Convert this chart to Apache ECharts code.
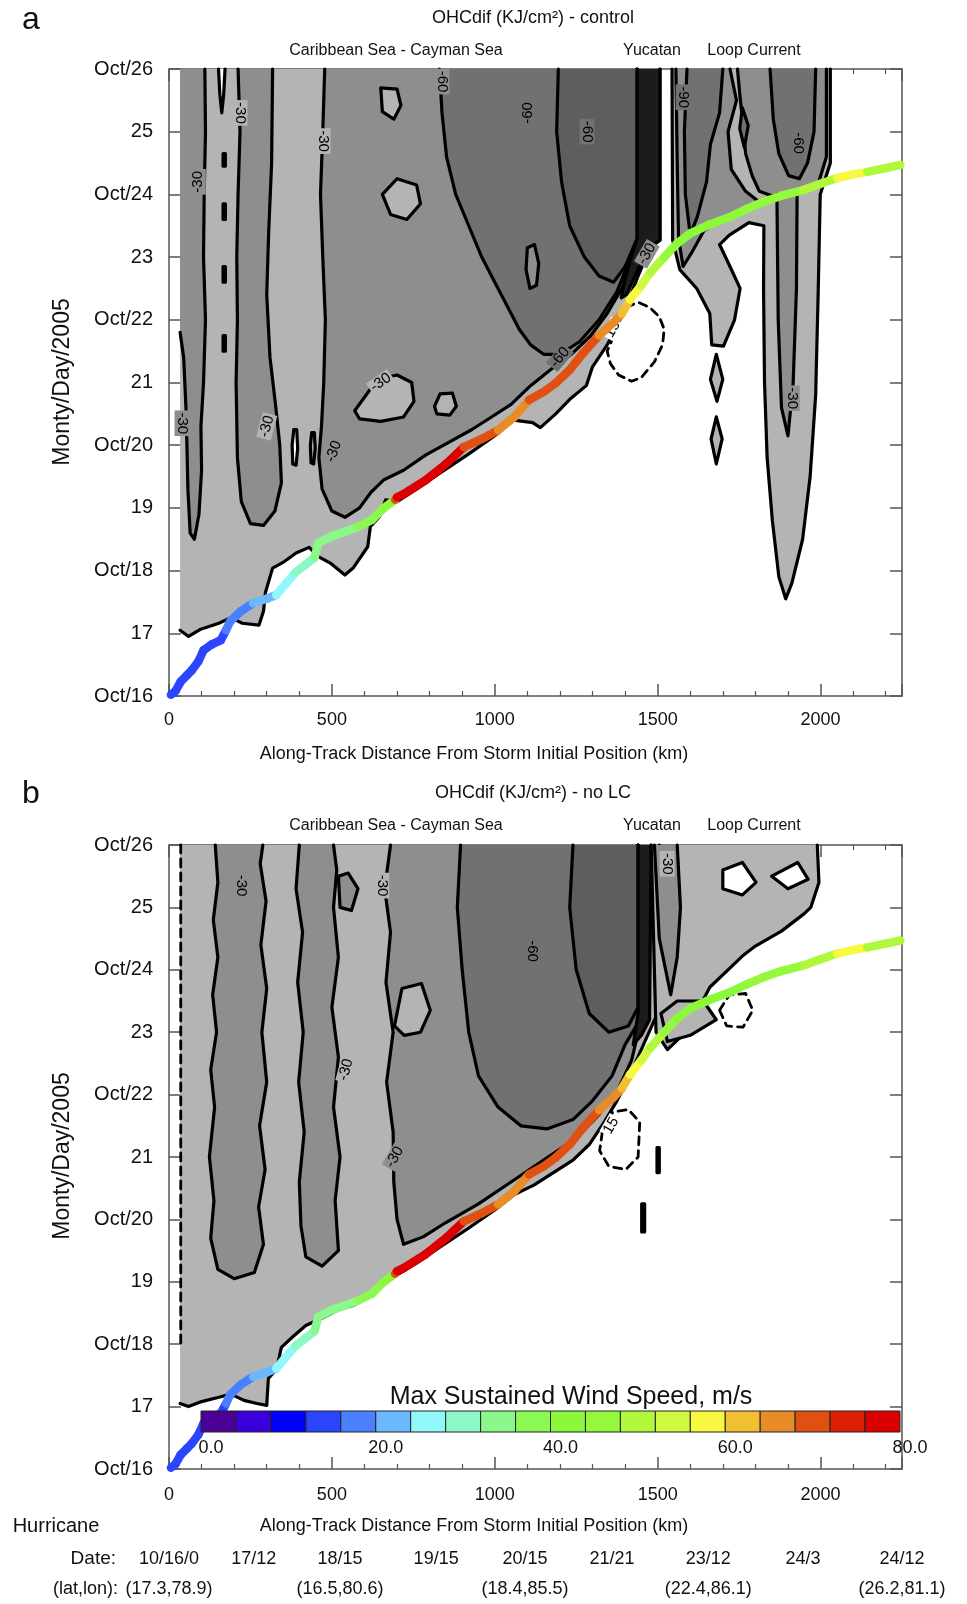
<!DOCTYPE html>
<html><head><meta charset="utf-8">
<script src="https://cdn.jsdelivr.net/npm/echarts@6/dist/echarts.min.js"></script>
<style>html,body{margin:0;padding:0;background:#fff}#c{width:967px;height:1604px}</style>
</head><body><div id="c"></div>
<script>
// ---------------- DATA ----------------
const dayTicks = [16,17,18,19,20,21,22,23,24,25,26];
const dayLabels = ['Oct/16','17','Oct/18','19','Oct/20','21','Oct/22','23','Oct/24','25','Oct/26'];

// Hurricane track (along-track km, day of Oct, max sustained wind m/s)
const trackKm = [6,20,36,55,70,90,106,130,159,175,188,220,258,300,329,360,388,420,447,458,500,540,580,623,660,694,700,720,787,850,905,960,1010,1060,1105,1150,1187,1230,1271,1320,1363,1390,1415,1450,1477,1520,1560,1600,1660,1722,1770,1824,1880,1947,2000,2051,2100,2143,2200,2245];
const trackDay = [16.02,16.08,16.23,16.33,16.41,16.55,16.73,16.82,16.89,17.05,17.19,17.35,17.48,17.55,17.61,17.80,17.97,18.10,18.21,18.44,18.55,18.62,18.70,18.81,19.00,19.13,19.17,19.22,19.44,19.70,19.97,20.10,20.24,20.45,20.72,20.85,20.99,21.20,21.47,21.75,21.95,22.10,22.32,22.55,22.75,23.00,23.22,23.38,23.52,23.64,23.76,23.88,23.98,24.07,24.17,24.26,24.32,24.36,24.42,24.47];
const trackWind = [14,14,14,14,14,14,14,14,14,18,18,18,22,22,26,26,30,30,34,34,34,34,38,38,42,70,78,78,78,78,70,70,66,66,70,70,70,70,70,66,66,62,58,54,50,44,42,42,42,42,46,46,46,50,50,58,58,50,50,50];

// wind-speed colour bar
const windBins = [0,4,8,12,16,20,24,28,32,36,40,44,48,52,56,60,64,68,72,76];
const windColors = ['#4b0096','#3a00dc','#0000ff','#2b45ff','#4a80ff','#6cb8ff','#90f8f8','#8cf8c8','#8cf88c','#8cf854','#8cf83c','#96f83c','#b0f83c','#d0f840','#f8f840','#f0c030','#e88c28','#e05010','#dc2008','#dc0000'];

// OHCdif contour regions, panel a (control): [km, day] outlines, level = enclosed contour value
const aWest = [[34,26],[34,17.05],[60,16.95],[95,17.06],[153,17.16],[190,17.25],[225,17.16],[276,17.13],[290,17.35],[296,17.65],[318,18.04],[350,18.13],[390,18.28],[430,18.37],[460,18.22],[495,18.12],[540,17.93],[565,18.04],[610,18.38],[618,18.7],[646,18.86],[665,19.13],[700,19.1],[760,19.3],[830,19.55],[917,19.85],[1000,20.15],[1058,20.4],[1116,20.36],[1140,20.28],[1187,20.5],[1234,20.75],[1281,20.95],[1300,21.25],[1345,21.6],[1380,21.95],[1410,22.3],[1440,22.7],[1465,23.0],[1490,23.2],[1507,23.27],[1507,26]];
const aLeftCol = [[34,26],[34,21.8],[45,21.4],[52,20.6],[55,20.0],[58,19.3],[65,18.6],[78,18.5],[92,18.9],[100,19.6],[98,20.3],[106,21.0],[112,22.0],[106,23.0],[108,24.0],[112,25.0],[110,26]];
const aBand1 = [[212,26],[218,25],[212,24],[208,23],[210,22],[206,21],[210,19.8],[222,19.1],[250,18.75],[290,18.72],[325,18.95],[345,19.4],[340,20.0],[328,20.6],[310,21.4],[300,22.4],[306,23.4],[315,24.5],[318,26]];
const aCentral = [[478,26],[472,25],[465,24],[472,23],[480,22],[475,21],[468,20.3],[460,19.8],[470,19.3],[500,18.95],[540,18.85],[585,19.0],[620,19.25],[660,19.45],[720,19.6],[790,19.85],[860,20.05],[930,20.25],[990,20.45],[1050,20.65],[1110,20.95],[1170,21.2],[1235,21.45],[1295,21.75],[1345,22.1],[1390,22.5],[1420,22.95],[1437,23.3],[1437,26]];
const aHole1 = [[570,20.55],[605,20.8],[640,21.05],[700,21.12],[745,21.0],[752,20.7],[720,20.45],[650,20.38],[585,20.42]];
const aHole2 = [[815,20.62],[832,20.82],[870,20.83],[882,20.62],[862,20.48],[822,20.5]];
const aHole3 = [[650,25.7],[700,25.68],[712,25.42],[690,25.2],[655,25.32]];
const aHole4 = [[655,24.0],[700,24.25],[760,24.15],[772,23.85],[730,23.6],[680,23.68]];
const aOval1 = [[380,19.7],[378,20.0],[383,20.25],[392,20.25],[395,19.95],[390,19.68]];
const aOval2 = [[436,19.72],[434,20.0],[438,20.2],[446,20.2],[449,19.95],[444,19.7]];
const aDark1 = [[830,26],[838,25.3],[852,24.6],[880,24.0],[920,23.5],[960,23.0],[1000,22.6],[1040,22.2],[1075,21.85],[1110,21.6],[1150,21.45],[1200,21.45],[1260,21.65],[1320,22.0],[1375,22.45],[1410,22.9],[1437,23.3],[1437,26]];
const aDarkOval = [[1100,23.15],[1122,23.2],[1135,22.9],[1128,22.55],[1108,22.5],[1096,22.8]];
const aDark2 = [[1195,26],[1190,25],[1205,24.2],[1230,23.5],[1275,23.0],[1320,22.7],[1365,22.6],[1400,22.85],[1437,23.3],[1437,26]];
const aYucatan = [[1437,26],[1437,23.3],[1416,22.95],[1398,22.6],[1388,22.35],[1405,22.4],[1432,22.72],[1462,23.02],[1490,23.22],[1507,23.27],[1507,26]];
const aLoop = [[1544,26],[2030,26],[2030,24.5],[1999,24.0],[1993,22.5],[1985,20.8],[1968,19.5],[1945,18.5],[1912,17.8],[1893,17.55],[1872,17.9],[1852,18.8],[1836,19.8],[1828,21.0],[1825,22.5],[1826,23.5],[1780,23.55],[1720,23.35],[1690,23.2],[1722,22.85],[1753,22.5],[1736,22.0],[1702,21.58],[1666,21.6],[1660,22.1],[1620,22.5],[1568,22.8],[1546,23.27]];
const aLoopMid1 = [[1556,26],[1722,26],[1742,25.5],[1716,25.0],[1726,24.4],[1770,24.05],[1812,23.88],[1762,23.78],[1702,23.62],[1642,23.42],[1602,23.05],[1578,22.85],[1564,23.3],[1560,24.5]];
const aLoopDark1 = [[1590,26],[1700,26],[1690,25.3],[1662,24.8],[1650,24.2],[1622,23.65],[1600,23.35],[1585,24.0],[1582,25.0]];
const aLoopMid2 = [[1745,26],[2018,26],[2018,24.6],[1990,24.12],[1940,24.02],[1900,23.98],[1850,23.98],[1812,24.05],[1790,24.3],[1770,24.65],[1760,25.2],[1752,25.6]];
const aLoopDark2 = [[1845,26],[1985,26],[1980,25.0],[1960,24.5],[1935,24.25],[1902,24.3],[1872,24.65],[1855,25.2]];
const aLoopDiamond = [[1760,25.38],[1778,25.1],[1766,24.75],[1752,25.05]];
const aTongueIn = [[1866,24.0],[1928,24.0],[1926,22.5],[1916,21.0],[1900,20.15],[1880,20.6],[1870,22.0]];
const aDiamond1 = [[1680,21.45],[1700,21.05],[1682,20.7],[1662,21.05]];
const aDiamond2 = [[1680,20.45],[1698,20.1],[1680,19.7],[1664,20.1]];
const aSliver = [[152,26],[172,26],[168,25.6],[162,25.3],[156,25.6]];
const aDash1 = [[166,24.65],[173,24.65],[173,24.45],[166,24.45]];
const aDash2 = [[166,23.85],[173,23.85],[173,23.6],[166,23.6]];
const aDash3 = [[166,22.85],[173,22.85],[173,22.6],[166,22.6]];
const aDash4 = [[166,21.75],[173,21.75],[173,21.5],[166,21.5]];
const aPositive = [[1404,22.2],[1440,22.28],[1475,22.2],[1505,22.05],[1520,21.85],[1515,21.6],[1490,21.33],[1450,21.08],[1420,21.02],[1380,21.12],[1355,21.3],[1345,21.5]];

const panelA = [
  [0,aWest],[-30,aLeftCol],[-30,aBand1],[-30,aCentral],[0,aHole1],[0,aHole2],[0,aHole3],[0,aHole4],[1,aOval1],[0,aOval2],
  [-60,aDark1],[-30,aDarkOval],[-90,aDark2],[-120,aYucatan],[0,aLoop],[-30,aLoopMid1],[-60,aLoopDark1],[-30,aLoopMid2],[-60,aLoopDark2],
  [-60,aLoopDiamond],[-30,aTongueIn],[0,aDiamond1],[0,aDiamond2],[1,aSliver],[-120,aDash1],[-120,aDash2],[-120,aDash3],[-120,aDash4],[15,aPositive]
];
// contour labels: km, day, text, angle, level of region behind
const aLabels = [
  [90,24.2,'-30',90,-30],[40,20.35,'-30',-90,-30],[218,25.3,'-30',-90,0],[300,20.3,'-30',75,0],[506,19.9,'-30',70,-30],
  [650,21.0,'-30',35,0],[473,24.85,'-30',-90,0],[838,25.8,'-60',-90,-30],[1102,25.3,'-60',90,-60],[1283,25.0,'-60',-90,-60],
  [1200,21.4,'-60',50,-60],[1578,25.55,'-90',-90,-60],[1932,24.82,'-60',-90,-60],[1913,20.75,'-30',-90,-30],[1362,21.85,'15',60,1],[1467,23.05,'-30',60,-30]
];

// panel b (no LC)
const bWest = [[34,26],[34,17.05],[60,17.0],[100,17.08],[153,17.15],[190,17.2],[230,17.1],[270,17.05],[300,17.02],[305,17.45],[330,17.6],[345,17.95],[380,18.12],[420,18.3],[470,18.42],[520,18.55],[565,18.62],[610,18.75],[650,18.95],[690,19.08],[760,19.3],[830,19.55],[917,19.85],[1000,20.15],[1060,20.4],[1120,20.55],[1180,20.75],[1240,20.95],[1290,21.2],[1335,21.55],[1375,21.9],[1405,22.2],[1435,22.55],[1465,22.9],[1495,23.25],[1505,26]];
const bCol1 = [[142,26],[150,25.4],[136,24.8],[150,24.2],[134,23.6],[146,23.0],[128,22.4],[140,21.8],[124,21.0],[138,20.3],[128,19.7],[150,19.2],[200,19.05],[262,19.15],[290,19.6],[275,20.2],[295,20.8],[278,21.5],[300,22.2],[285,23.0],[300,23.7],[282,24.4],[298,25.1],[280,25.7],[288,26]];
const bCol2 = [[400,26],[390,25.3],[410,24.6],[395,23.8],[412,23.0],[398,22.2],[415,21.4],[400,20.6],[405,19.9],[420,19.4],[470,19.25],[520,19.5],[510,20.3],[525,21.0],[505,21.8],[520,22.6],[500,23.4],[520,24.2],[505,25.0],[515,25.6],[505,26]];
const bCentral = [[680,26],[662,25.3],[680,24.6],[666,23.8],[688,23.0],[668,22.2],[688,21.4],[690,20.6],[700,20.0],[720,19.6],[780,19.72],[850,19.95],[950,20.25],[1050,20.6],[1150,20.95],[1250,21.3],[1320,21.68],[1380,22.1],[1420,22.55],[1440,23.0],[1440,26]];
const bHole1 = [[692,23.1],[715,23.7],[775,23.78],[802,23.35],[772,23.0],[722,22.95]];
const bSmall1 = [[520,25.5],[550,25.55],[580,25.3],[560,24.95],[525,25.0]];
const bDark1 = [[895,26],[885,25.0],[900,24.0],[920,23.0],[950,22.3],[1010,21.8],[1080,21.5],[1160,21.45],[1240,21.6],[1300,21.9],[1360,22.3],[1400,22.8],[1440,23.15],[1440,26]];
const bDark2 = [[1240,26],[1230,25],[1250,24],[1290,23.3],[1350,23.0],[1410,23.1],[1440,23.4],[1440,26]];
const bYucatan = [[1440,26],[1440,23.3],[1425,22.8],[1450,22.95],[1475,23.2],[1480,26]];
const bLoop = [[1480,26],[1990,26],[1995,25.4],[1970,25.0],[1950,24.9],[1880,24.62],[1800,24.38],[1760,24.22],[1720,24.02],[1660,23.72],[1620,23.32],[1570,22.92],[1530,22.72],[1495,23.0]];
const bLoopHole1 = [[1700,25.6],[1760,25.72],[1802,25.4],[1760,25.2],[1700,25.3]];
const bLoopHole2 = [[1850,25.5],[1930,25.72],[1962,25.45],[1900,25.3]];
const bLoopMid = [[1490,26],[1560,26],[1570,25],[1560,24.2],[1540,23.6],[1505,24.5]];
const bBelow = [[1510,23.3],[1560,23.5],[1640,23.5],[1680,23.2],[1600,22.95],[1530,22.85]];
const bPositive1 = [[1330,21.4],[1362,21.72],[1410,21.76],[1445,21.56],[1440,21.0],[1402,20.8],[1350,20.85],[1322,21.1]];
const bPositive2 = [[1690,23.35],[1720,23.6],[1770,23.62],[1792,23.35],[1762,23.08],[1712,23.1]];
const bCapsule = [[1451,20.25],[1460,20.25],[1460,19.8],[1451,19.8]];
const bCapsule2 = [[1498,21.15],[1505,21.15],[1505,20.75],[1498,20.75]];
const bLeftEdge = [[36,26],[36,18.0]];

const panelB = [
  [0,bWest],[-30,bCol1],[-30,bCol2],[-30,bCentral],[0,bHole1],[-30,bSmall1],[-60,bDark1],[-90,bDark2],[-120,bYucatan],
  [0,bLoop],[1,bLoopHole1],[1,bLoopHole2],[-30,bLoopMid],[0,bBelow],[15,bPositive1],[15,bPositive2],[-120,bCapsule],[-120,bCapsule2],[15,bLeftEdge]
];
const bLabels = [
  [220,25.35,'-30',-90,-30],[653,25.35,'-30',-90,0],[1115,24.3,'-60',-90,-60],[1529,25.7,'-30',-90,0],
  [543,22.4,'-30',75,0],[693,21.0,'-30',60,-30],[1357,21.5,'15',60,1]
];

// bottom table
const dateText = ['10/16/0','17/12','18/15','19/15','20/15','21/21','23/12','24/3','24/12'];
const dateKm = [0,260,525,820,1093,1360,1655,1946,2250];
const latLonText = ['(17.3,78.9)','','(16.5,80.6)','','(18.4,85.5)','','(22.4,86.1)','','(26.2,81.1)'];

// ---------------- RENDER ----------------
const FONT = "'Liberation Sans', Arial, Helvetica, sans-serif";
const DATA_LEFT = 34, DATA_TOP = 26;
function fillOf(l){ if(l>=15) return 'none'; if(l>0) return '#ffffff'; if(l===0) return '#b4b4b4'; if(l===-30) return '#8e8e8e'; if(l===-60) return '#717171'; if(l===-90) return '#5e5e5e'; return '#1c1c1c'; }
function windColor(w){ return windColors[Math.max(0, Math.min(19, Math.floor(w/4)))]; }
function onEdge(a,b){ return (a[1]>=DATA_TOP && b[1]>=DATA_TOP) || (a[0]<=DATA_LEFT && b[0]<=DATA_LEFT); }
const AX = '#555';

function contourSeries(ai, polys){
  return { type:'custom', xAxisIndex:ai, yAxisIndex:ai, silent:true, z:2, animation:false,
    data: polys.map(p=>[p[1][0][0], p[1][0][1]]),
    renderItem:(params, api)=>{
      const p = polys[params.dataIndex];
      const pts = p[1];
      const px = pts.map(q=>api.coord(q));
      const dashed = p[0]>=15;
      const children = [];
      const closed = pts.length>2;
      if (!dashed && closed) children.push({type:'polygon', shape:{points:px}, style:{fill:fillOf(p[0]), stroke:null, lineWidth:0}});
      const n = pts.length, m = closed ? n : n-1;
      const runs = []; let run = [];
      for (let i=0;i<m;i++){
        const j = (i+1)%n;
        if (onEdge(pts[i], pts[j])) { if (run.length) { runs.push(run); run = []; } continue; }
        if (!run.length) run.push(px[i]);
        run.push(px[j]);
      }
      if (run.length) runs.push(run);
      runs.forEach(r=>children.push({type:'polyline', shape:{points:r},
        style:{fill:null, stroke:'#000', lineWidth: dashed?2.8:3.2, lineDash: dashed?[8,6]:null, lineJoin:'round', lineCap:'round'}}));
      return {type:'group', children:children};
    }};
}
function labelSeries(ai, labels){
  return { type:'custom', xAxisIndex:ai, yAxisIndex:ai, silent:true, z:3, animation:false,
    data: labels.map(l=>[l[0], l[1]]),
    renderItem:(params, api)=>{
      const l = labels[params.dataIndex];
      const c = api.coord([l[0], l[1]]);
      const bg = fillOf(l[4]);
      return {type:'text', x:c[0], y:c[1], rotation:l[3]*Math.PI/180,
        style:{text:l[2], font:'15px '+FONT, fill:'#000', align:'center', verticalAlign:'middle', backgroundColor: bg==='none'?'#fff':bg, padding:[0,2]}};
    }};
}
function trackSeries(ai){
  return { type:'custom', xAxisIndex:ai, yAxisIndex:ai, silent:true, z:5, animation:false,
    data: trackKm.map((k,i)=>[k, trackDay[i], trackWind[i]]),
    renderItem:(params, api)=>{
      const i = params.dataIndex;
      if (i >= trackKm.length-1) return null;
      const p0 = api.coord([trackKm[i], trackDay[i]]);
      const p1 = api.coord([trackKm[i+1], trackDay[i+1]]);
      return {type:'line', shape:{x1:p0[0], y1:p0[1], x2:p1[0], y2:p1[1]},
        style:{stroke: windColor(trackWind[i]), lineWidth:8.5, lineCap:'round'}};
    }};
}

function xAx(grid, pos, labels, margin){
  return {gridIndex:grid, type:'value', position:pos, min:0, max:2250, interval:500,
    axisLine:{show:true, onZero:false, lineStyle:{color:AX, width:1.5}},
    axisTick:{show:true, inside:true, length:12, lineStyle:{color:AX, width:1.5}},
    minorTick:{show:true, splitNumber:5, length:5, lineStyle:{color:AX, width:1.2}},
    splitLine:{show:false}, minorSplitLine:{show:false},
    axisLabel:{show:labels, fontSize:18, fontFamily:FONT, color:'#111', margin:margin, showMaxLabel:false, formatter:(v)=>String(v)}};
}
function yAx(grid, pos, labels){
  return {gridIndex:grid, type:'value', position:pos, min:16, max:26, interval:1,
    axisLine:{show:true, onZero:false, lineStyle:{color:AX, width:1.5}},
    axisTick:{show:true, inside:true, length:12, lineStyle:{color:AX, width:1.5}},
    splitLine:{show:false},
    axisLabel:{show:labels, fontSize:20, fontFamily:FONT, color:'#111', margin:16,
      formatter:(v)=>{ const i = dayTicks.indexOf(v); return i>=0 ? dayLabels[i] : ''; }}};
}

function txt(t, x, y, size, opt){
  opt = opt || {};
  return {type:'text', x:x, y:y, rotation:opt.rot||0, silent:true, z:20,
    style:{text:t, font:(size||18)+'px '+FONT, fill:'#111', align:opt.align||'center', verticalAlign:'middle', textAlign:opt.align||'center', textVerticalAlign:'middle'}};
}

const chart = echarts.init(document.getElementById('c'), null, {renderer:'canvas'});
const option = {
  animation:false,
  backgroundColor:'#fff',
  grid:[
    {left:169, top:69, width:733, height:627},
    {left:169, top:845, width:733, height:624},
    {left:201, top:1411, width:699, height:21}
  ],
  xAxis:[
    xAx(0,'bottom',true,15), xAx(0,'top',false,15),
    xAx(1,'bottom',true,17), xAx(1,'top',false,17),
    {gridIndex:2, type:'value', min:0, max:80, interval:20, axisLine:{show:false}, axisTick:{show:false}, splitLine:{show:false},
     axisLabel:{fontSize:18, fontFamily:FONT, color:'#111', margin:7, padding:[0,0,0,20], formatter:(v)=>v.toFixed(1)}}
  ],
  yAxis:[
    yAx(0,'left',true), yAx(0,'right',false),
    yAx(1,'left',true), yAx(1,'right',false),
    {gridIndex:2, type:'value', min:0, max:1, show:false}
  ],
  series:[
    contourSeries(0, panelA), labelSeries(0, aLabels), trackSeries(0),
    contourSeries(2, panelB), labelSeries(2, bLabels), trackSeries(2),
    { type:'custom', xAxisIndex:4, yAxisIndex:4, silent:true, z:10, animation:false,
      data: windBins.map(b=>[b, 0]),
      renderItem:(params, api)=>{
        const b = windBins[params.dataIndex];
        const p0 = api.coord([b, 1]), p1 = api.coord([b+4, 0]);
        return {type:'rect', shape:{x:p0[0], y:p0[1], width:p1[0]-p0[0], height:p1[1]-p0[1]},
          style:{fill: windColors[params.dataIndex], stroke:'#222', lineWidth:1}};
      }},
    { type:'custom', xAxisIndex:2, yAxisIndex:2, silent:true, z:10, animation:false, clip:false,
      data: dateKm.map(k=>[k, 16]),
      renderItem:(params, api)=>{
        const i = params.dataIndex;
        const c = api.coord([dateKm[i], 16]);
        const ch = [{type:'text', x:c[0], y:c[1]+90, style:{text:dateText[i], font:'18px '+FONT, fill:'#111', align:'center', verticalAlign:'middle'}}];
        if (latLonText[i]) ch.push({type:'text', x:c[0], y:c[1]+120, style:{text:latLonText[i], font:'18px '+FONT, fill:'#111', align:'center', verticalAlign:'middle'}});
        return {type:'group', children:ch};
      }}
  ],
  graphic:[
    txt('a',31,20,32),
    txt('OHCdif (KJ/cm\u00b2) - control',533,18,18),
    txt('Caribbean Sea - Cayman Sea',396,51,16),
    txt('Yucatan',652,51,16),
    txt('Loop Current',754,51,16),
    txt('Monty/Day/2005',63,382,23,{rot:Math.PI/2}),
    txt('Along-Track Distance From Storm Initial Position (km)',474,754,18),
    txt('b',31,794,32),
    txt('OHCdif (KJ/cm\u00b2) - no LC',533,793,18),
    txt('Caribbean Sea - Cayman Sea',396,826,16),
    txt('Yucatan',652,826,16),
    txt('Loop Current',754,826,16),
    txt('Monty/Day/2005',63,1156,23,{rot:Math.PI/2}),
    txt('Along-Track Distance From Storm Initial Position (km)',474,1526,18),
    txt('Max Sustained Wind Speed, m/s',571,1397,25),
    txt('Hurricane',56,1526,20),
    txt('Date:',116,1559,19,{align:'right'}),
    txt('(lat,lon):',118,1589,18,{align:'right'})
  ]
};
chart.setOption(option);
</script></body></html>
